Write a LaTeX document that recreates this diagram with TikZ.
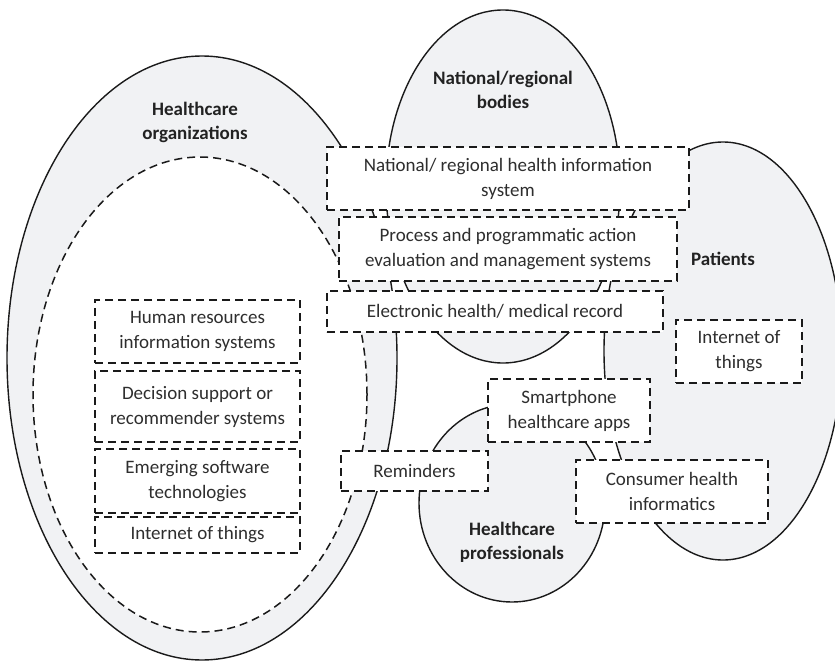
\documentclass[tikz,border=0pt]{standalone}
\usepackage{fontspec}
\setmainfont{Carlito}
\usetikzlibrary{shapes.geometric}
\definecolor{fillgray}{HTML}{F1F2F4}
\definecolor{txt}{HTML}{2E2E2E}
\definecolor{ttl}{HTML}{222222}
\definecolor{lin}{HTML}{1A1A1A}
\tikzset{
  ell/.style={ellipse, inner sep=0pt, fill=fillgray},
  ellline/.style={draw=lin, line width=1.4pt},
  dbox/.style={draw=lin, line width=1.8pt, dash pattern=on 8pt off 5pt, fill=white, inner sep=0pt, align=center, text=txt, font=\fontsize{19}{25}\selectfont},
  ttlnode/.style={align=center, text=ttl, font=\fontsize{19}{24}\selectfont\bfseries},
}
\begin{document}
\begin{tikzpicture}[x=1pt,y=-1pt]
\useasboundingbox (0,0) rectangle (835,661);
\clip (0,0) rectangle (835,661);
% ellipse fills
\node[ell, minimum width=390pt, minimum height=604pt] (hco) at (202,358) {};
\node[ell, minimum width=234pt, minimum height=353pt] (nrb) at (503,186.5) {};
\node[ell, minimum width=238pt, minimum height=418pt] (pat) at (723,351) {};
\node[ell, minimum width=186pt, minimum height=198pt] (hcp) at (512,503) {};
% ellipse outlines
\draw[ellline] (hco.center) ellipse [x radius=195pt, y radius=302pt];
\draw[ellline] (nrb.center) ellipse [x radius=117pt, y radius=176.5pt];
\draw[ellline] (pat.center) ellipse [x radius=119pt, y radius=209pt];
\draw[ellline] (hcp.center) ellipse [x radius=93pt, y radius=99pt];
% inner dashed ellipse
\node[ellipse, inner sep=0pt, fill=white, draw=lin, line width=1.5pt, dash pattern=on 8pt off 5pt, minimum width=334pt, minimum height=475pt] (inner) at (200,394.5) {};
% titles
\node[ttlnode] (t1) at (195,122) {Healthcare\\organizations};
\node[ttlnode] (t2) at (503,90) {National/regional\\bodies};
\node[ttlnode] (t3) at (723,259) {Patients};
\node[ttlnode] (t4) at (512,542) {Healthcare\\professionals};
% boxes
\node[dbox, minimum width=362pt, minimum height=63pt] (nhis) at (508,178.5) {National/ regional health information\\system};
\node[dbox, minimum width=338pt, minimum height=64pt] (proc) at (508,249) {Process and programmatic action\\evaluation and management systems};
\node[dbox, minimum width=336pt, minimum height=41pt] (ehr) at (495,311.5) {Electronic health/ medical record};
\node[dbox, minimum width=126pt, minimum height=63pt] (iotr) at (739,351.5) {Internet of\\things};
\node[dbox, minimum width=162pt, minimum height=63pt] (smart) at (569,410.5) {Smartphone\\healthcare apps};
\node[dbox, minimum width=147pt, minimum height=40pt] (rem) at (414.5,471) {Reminders};
\node[dbox, minimum width=192pt, minimum height=63pt] (chi) at (672,491.5) {Consumer health\\informatics};
\node[dbox, minimum width=205pt, minimum height=63pt] (hr) at (197.5,331.5) {Human resources\\information systems};
\node[dbox, minimum width=205pt, minimum height=71pt] (dss) at (197.5,406.5) {Decision support or\\recommender systems};
\node[dbox, minimum width=205pt, minimum height=64pt] (est) at (197.5,481) {Emerging software\\technologies};
\node[dbox, minimum width=205pt, minimum height=36pt] (iotl) at (197.5,535) {Internet of things};
\end{tikzpicture}
\end{document}
